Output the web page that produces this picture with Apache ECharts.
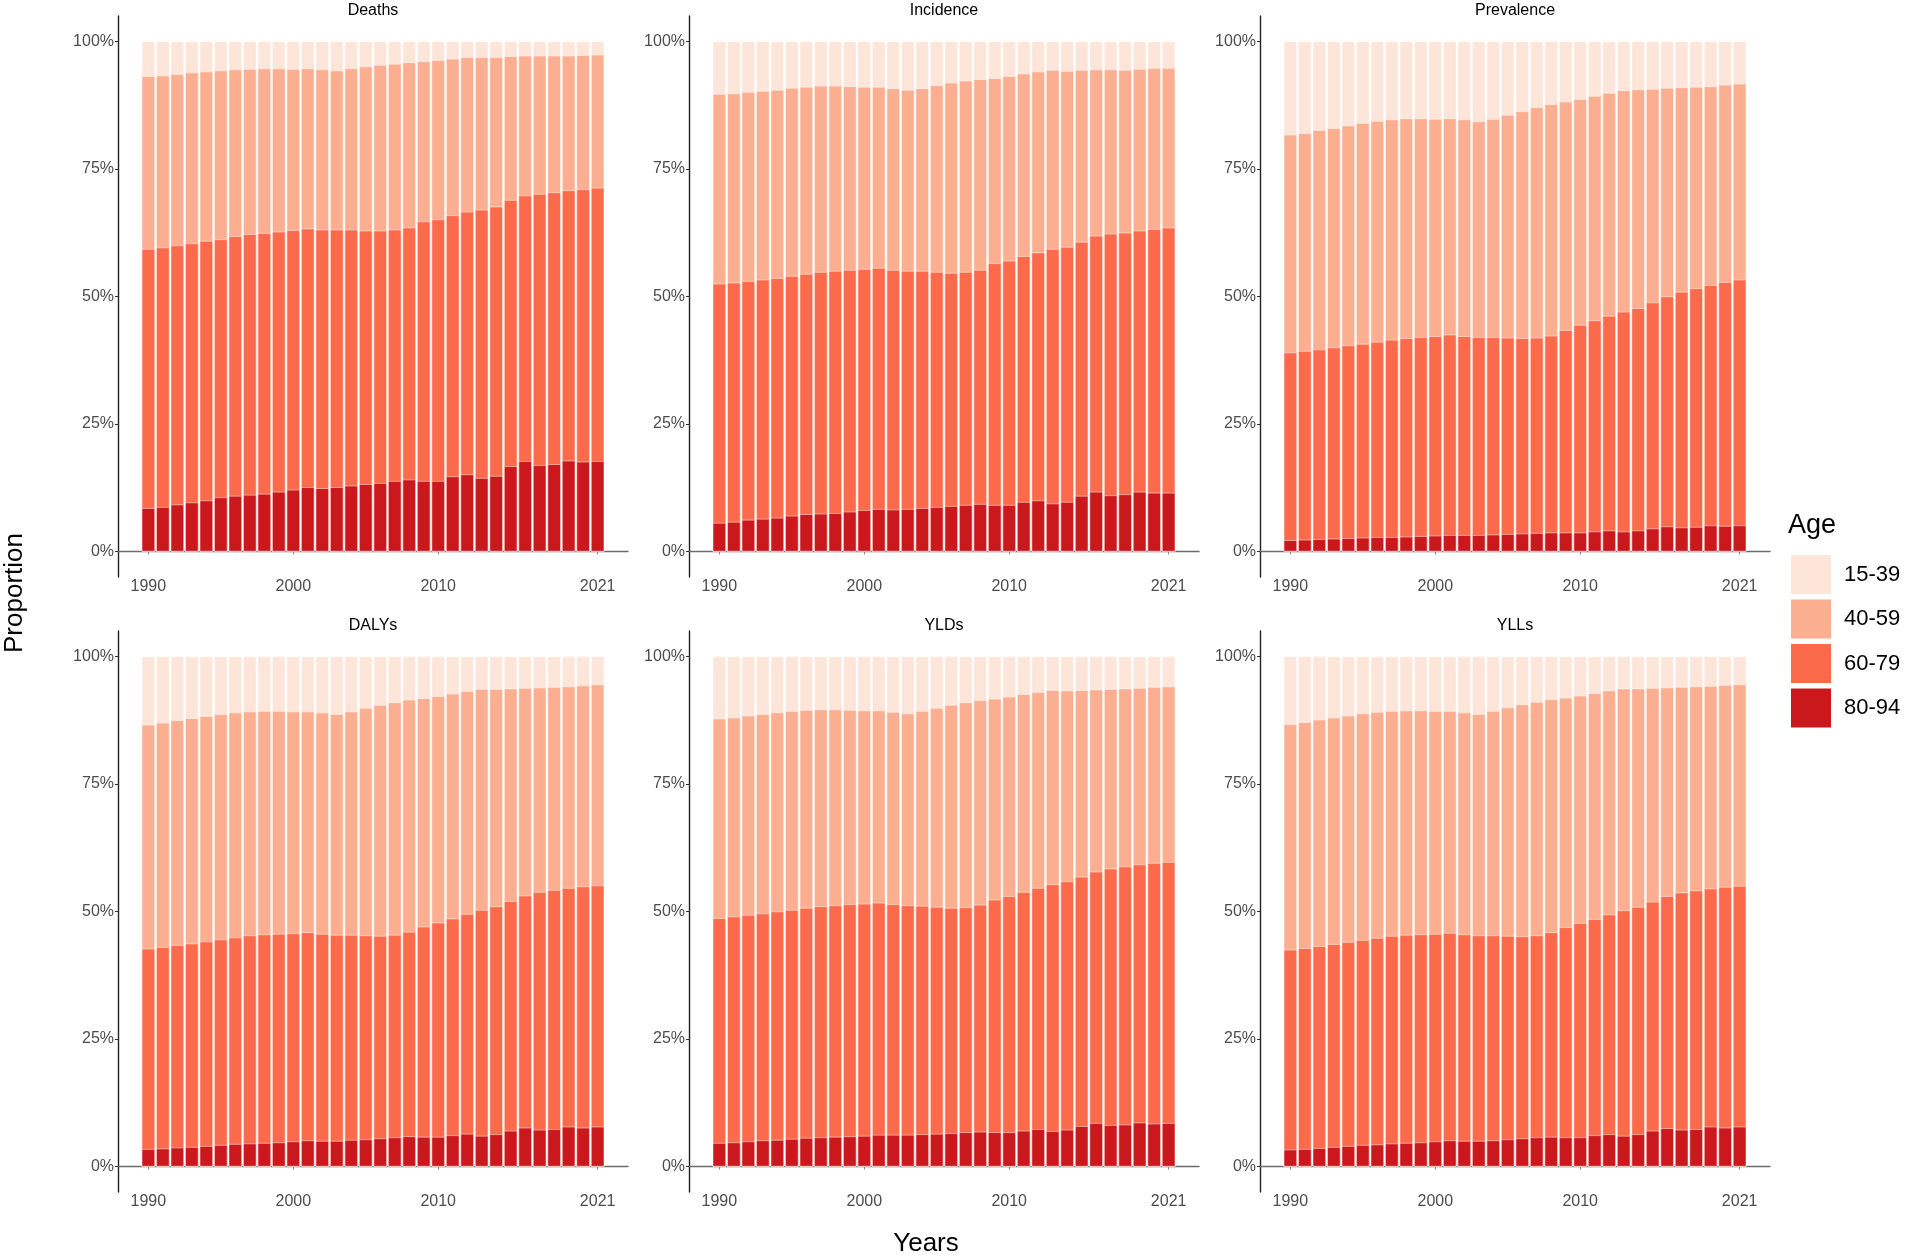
<!DOCTYPE html>
<html>
<head>
<meta charset="utf-8">
<script src="https://cdn.jsdelivr.net/npm/echarts@6/dist/echarts.min.js"></script>
<style>
html,body{margin:0;padding:0;background:#fff;}
#chart{width:1908px;height:1256px;}
</style>
</head>
<body>
<div id="chart"></div>
<script>
// ---- Data (percent, cumulative from the bottom of each bar) ----
const years = [1990,1991,1992,1993,1994,1995,1996,1997,1998,1999,2000,2001,2002,2003,2004,2005,2006,2007,2008,2009,2010,2011,2012,2013,2014,2015,2016,2017,2018,2019,2020,2021];
const ageGroups = ['15-39','40-59','60-79','80-94'];
const panelTitles = ['Deaths','Incidence','Prevalence','DALYs','YLDs','YLLs'];
const yTickValues = [0,25,50,75,100];
const xTickValues = [1990,2000,2010,2021];

// every bar reaches 100% (top of the 15-39 band)
const totalTop = [100,100,100,100,100,100,100,100,100,100,100,100,100,100,100,100,100,100,100,100,100,100,100,100,100,100,100,100,100,100,100,100];

// top of 80-94 band
const deathsTop8094 = [8.5,8.7,9.2,9.6,10.0,10.6,10.9,11.1,11.3,11.7,12.1,12.6,12.4,12.6,12.9,13.2,13.4,13.8,14.1,13.8,13.8,14.7,15.1,14.4,14.8,16.7,17.7,16.9,17.1,17.8,17.6,17.7];
// top of 60-79 band
const deathsTop6079 = [59.3,59.6,60.0,60.4,60.9,61.2,61.8,62.2,62.4,62.7,63.0,63.3,63.1,63.1,63.1,62.9,62.9,63.1,63.5,64.7,65.1,65.9,66.6,67.0,67.6,68.9,69.8,70.1,70.4,70.8,71.0,71.3];
// top of 40-59 band
const deathsTop4059 = [93.2,93.3,93.6,93.9,94.1,94.3,94.5,94.6,94.7,94.7,94.6,94.7,94.5,94.3,94.7,95.1,95.4,95.6,95.9,96.1,96.3,96.6,96.9,96.9,96.9,97.1,97.2,97.2,97.2,97.2,97.3,97.4];

const incidenceTop8094 = [5.6,5.8,6.2,6.4,6.6,7.0,7.3,7.4,7.5,7.8,8.1,8.3,8.2,8.3,8.5,8.7,8.9,9.1,9.3,9.1,9.1,9.7,10.0,9.4,9.7,10.9,11.7,11.0,11.2,11.7,11.5,11.5];
const incidenceTop6079 = [52.5,52.7,53.0,53.3,53.6,54.0,54.4,54.8,55.0,55.2,55.4,55.6,55.2,55.0,55.0,54.8,54.6,54.8,55.2,56.5,57.0,57.9,58.6,59.3,59.7,60.7,61.9,62.3,62.5,62.9,63.2,63.5];
const incidenceTop4059 = [89.7,89.8,90.1,90.3,90.5,90.9,91.1,91.3,91.3,91.2,91.1,91.1,90.8,90.5,90.8,91.4,91.9,92.3,92.6,92.8,93.2,93.7,94.1,94.4,94.2,94.4,94.5,94.5,94.4,94.6,94.8,94.8];

const prevalenceTop8094 = [2.2,2.3,2.4,2.5,2.6,2.7,2.8,2.8,2.9,3.0,3.1,3.2,3.2,3.2,3.3,3.4,3.5,3.6,3.7,3.7,3.7,3.9,4.1,3.9,4.1,4.5,4.9,4.7,4.8,5.1,5.0,5.1];
const prevalenceTop6079 = [39.0,39.3,39.6,40.0,40.4,40.7,41.1,41.5,41.8,42.0,42.2,42.5,42.2,42.0,42.0,41.9,41.8,41.9,42.3,43.4,44.4,45.3,46.2,47.0,47.7,48.8,50.0,50.9,51.6,52.2,52.8,53.3];
const prevalenceTop4059 = [81.7,82.0,82.6,83.0,83.5,84.0,84.4,84.7,84.9,84.9,84.8,84.9,84.7,84.3,84.8,85.6,86.3,87.1,87.7,88.2,88.7,89.3,89.9,90.4,90.6,90.7,90.9,91.0,91.1,91.2,91.5,91.7];

const dalysTop8094 = [3.4,3.5,3.7,3.8,4.0,4.2,4.4,4.5,4.6,4.7,4.9,5.1,5.0,5.0,5.2,5.3,5.5,5.7,5.9,5.8,5.8,6.1,6.4,6.0,6.3,7.0,7.6,7.2,7.3,7.8,7.6,7.8];
const dalysTop6079 = [42.7,43.0,43.4,43.7,44.1,44.5,44.9,45.3,45.5,45.6,45.7,45.9,45.6,45.4,45.4,45.3,45.2,45.4,46.0,47.0,47.8,48.6,49.5,50.3,51.0,52.0,53.1,53.8,54.2,54.6,54.9,55.1];
const dalysTop4059 = [86.6,87.0,87.5,87.9,88.3,88.7,89.0,89.2,89.3,89.3,89.2,89.2,89.0,88.7,89.2,89.9,90.5,91.0,91.5,91.8,92.2,92.7,93.2,93.6,93.6,93.7,93.8,93.9,94.0,94.1,94.3,94.5];

const yldsTop8094 = [4.6,4.7,4.9,5.1,5.2,5.4,5.6,5.7,5.8,5.9,6.0,6.2,6.2,6.2,6.3,6.4,6.5,6.7,6.8,6.7,6.7,7.0,7.3,6.9,7.2,7.9,8.5,8.1,8.2,8.6,8.4,8.5];
const yldsTop6079 = [48.7,49.0,49.3,49.6,50.0,50.3,50.7,51.0,51.2,51.4,51.5,51.7,51.4,51.2,51.1,50.9,50.7,50.8,51.3,52.3,53.0,53.8,54.6,55.3,55.9,56.8,57.8,58.4,58.8,59.2,59.5,59.7];
const yldsTop4059 = [87.8,88.0,88.4,88.7,89.0,89.3,89.5,89.6,89.6,89.5,89.4,89.4,89.1,88.8,89.3,89.9,90.5,91.0,91.4,91.7,92.1,92.6,93.0,93.4,93.3,93.4,93.5,93.6,93.7,93.8,94.0,94.1];

const yllsTop8094 = [3.3,3.4,3.6,3.8,4.0,4.2,4.3,4.5,4.6,4.7,4.9,5.1,5.0,5.0,5.1,5.3,5.5,5.7,5.8,5.7,5.7,6.1,6.3,6.0,6.3,7.0,7.5,7.2,7.3,7.8,7.6,7.8];
const yllsTop6079 = [42.5,42.8,43.2,43.6,44.0,44.4,44.8,45.2,45.4,45.5,45.6,45.8,45.5,45.3,45.3,45.2,45.1,45.3,45.9,46.9,47.7,48.5,49.4,50.2,50.9,51.9,53.0,53.7,54.1,54.5,54.8,55.0];
const yllsTop4059 = [86.7,87.1,87.6,88.0,88.4,88.8,89.1,89.3,89.4,89.4,89.3,89.3,89.0,88.7,89.3,90.0,90.6,91.1,91.6,91.9,92.3,92.8,93.3,93.7,93.7,93.8,93.9,94.0,94.1,94.2,94.4,94.5];

const panelData = [
  [deathsTop8094, deathsTop6079, deathsTop4059],
  [incidenceTop8094, incidenceTop6079, incidenceTop4059],
  [prevalenceTop8094, prevalenceTop6079, prevalenceTop4059],
  [dalysTop8094, dalysTop6079, dalysTop4059],
  [yldsTop8094, yldsTop6079, yldsTop4059],
  [yllsTop8094, yllsTop6079, yllsTop4059]
];

// ---- Styles / layout ----
const colors = {'15-39':'#FEE5D9','40-59':'#FCAE91','60-79':'#FB6A4A','80-94':'#CB181D'};
const FONT = 'Liberation Sans, Arial, sans-serif';
const colLeft = [118, 689, 1260];
const rowTop = [16, 631];
const gridW = 510, gridH = 561;

const chart = echarts.init(document.getElementById('chart'), null, {renderer:'canvas'});

const grids = [], xAxes = [], yAxes = [], series = [], graphics = [];
panelTitles.forEach((title, i) => {
  const col = i % 3, row = Math.floor(i / 3);
  grids.push({left: colLeft[col], top: rowTop[row], width: gridW, height: gridH, containLabel: false});
  xAxes.push({
    type: 'value', gridIndex: i, min: 1987.905, max: 2023.095,
    axisLine: {show: true, lineStyle: {color: '#6b6b6b', width: 1.4}},
    axisTick: {show: true, length: 3, customValues: xTickValues, lineStyle: {color: '#888', width: 1}},
    axisLabel: {show: true, customValues: xTickValues, margin: 2, fontSize: 16, color: '#4d4d4d', fontFamily: FONT,
      formatter: v => String(Math.round(v))},
    splitLine: {show: false}
  });
  yAxes.push({
    type: 'value', gridIndex: i, min: -5, max: 105,
    axisLine: {show: true, lineStyle: {color: '#222', width: 1.4}},
    axisTick: {show: true, length: 3, customValues: yTickValues, lineStyle: {color: '#333', width: 1}},
    axisLabel: {show: true, customValues: yTickValues, margin: 4, fontSize: 16, color: '#4d4d4d', fontFamily: FONT,
      formatter: v => Math.round(v) + '%'},
    splitLine: {show: false}
  });
  const [c80, c60, c40] = panelData[i];
  // Bars are drawn as overlapping cumulative columns: the later (lower) band is painted over the earlier one.
  const layers = [['15-39', totalTop], ['40-59', c40], ['60-79', c60], ['80-94', c80]];
  layers.forEach(([name, tops], li) => {
    series.push({
      name: name, type: 'bar', xAxisIndex: i, yAxisIndex: i,
      barWidth: 13.2, barGap: '-100%', z: 2 + li,
      itemStyle: {color: colors[name], borderColor: '#ffffff', borderWidth: 0.5},
      data: years.map((y, k) => [y, tops[k]]), silent: true
    });
  });
  graphics.push({
    type: 'text',
    x: colLeft[col] + gridW / 2, y: rowTop[row] - 5,
    style: {text: title, fontSize: 16, fontFamily: FONT, fill: '#000', textAlign: 'center', textVerticalAlign: 'middle'}
  });
});

// axis titles
graphics.push({
  type: 'text', x: 15, y: 593, rotation: Math.PI / 2,
  style: {text: 'Proportion', fontSize: 26, fontFamily: FONT, fill: '#000', textAlign: 'center', textVerticalAlign: 'middle'}
});
graphics.push({
  type: 'text', x: 926, y: 1244,
  style: {text: 'Years', fontSize: 26, fontFamily: FONT, fill: '#000', textAlign: 'center', textVerticalAlign: 'middle'}
});
// legend title
graphics.push({
  type: 'text', x: 1788, y: 526,
  style: {text: 'Age', fontSize: 27, fontFamily: FONT, fill: '#000', textAlign: 'left', textVerticalAlign: 'middle'}
});

chart.setOption({
  animation: false,
  backgroundColor: '#ffffff',
  grid: grids,
  xAxis: xAxes,
  yAxis: yAxes,
  series: series,
  legend: {
    show: true, orient: 'vertical', left: 1789, top: 553, padding: 0,
    data: ageGroups, icon: 'rect', itemWidth: 42, itemHeight: 41, itemGap: 1.5,
    selectedMode: false,
    textStyle: {fontSize: 22, fontFamily: FONT, color: '#000', padding: [0, 0, 0, 7]}
  },
  graphic: graphics
});
</script>
</body>
</html>
